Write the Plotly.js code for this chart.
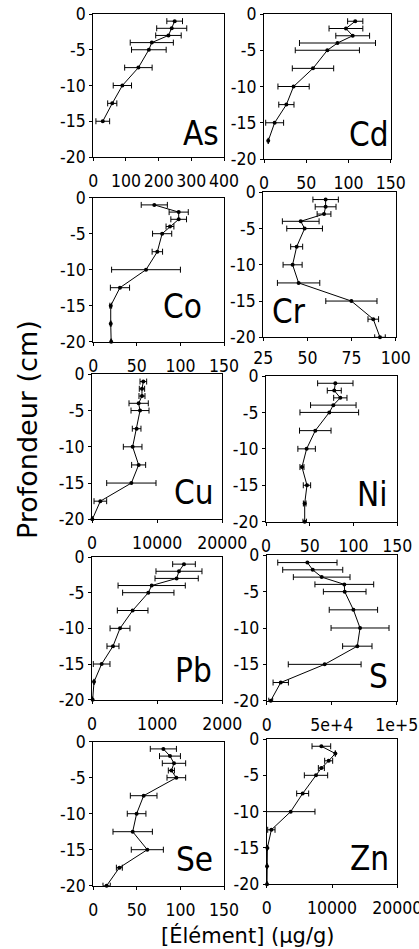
<!DOCTYPE html>
<html>
<head>
<meta charset="utf-8">
<script src="https://cdn.plot.ly/plotly-3.0.1.min.js"></script>
<style>html,body{margin:0;padding:0;background:#fff;}#chart{width:419px;height:949px;}</style>
</head>
<body>
<div id="chart"></div>
<script>
// Depths (cm)
const depth = [-1, -2, -3, -4, -5, -7.5, -10, -12.5, -15, -17.5, -20];

// Element names
const elements = ["As", "Cd", "Co", "Cr", "Cu", "Ni", "Pb", "S", "Se", "Zn"];

// Concentrations (µg/g) and error bars
const asVal = [249, 240, 230, 179, 170, 138, 89, 58, 29];
const asErr = [24, 46, 39, 66, 53, 42, 28, 14, 21];
const cdVal = [108, 97, 105, 87, 75, 58, 35, 26.5, 12.6, 5];
const cdErr = [9, 20, 20, 45, 38, 24.5, 18.5, 9, 10.6, 0];
const coVal = [70, 98, 98, 88, 79, 73.5, 60.5, 30.6, 20, 20, 20.5];
const coErr = [15, 11, 9, 4.5, 11, 6, 39.5, 11, 1, 0.5, 0.5];
const crVal = [60.3, 60.3, 59.4, 46.2, 48.4, 43.9, 41.6, 45, 74.9, 87.3, 91.1];
const crErr = [7.2, 5.9, 3.9, 10.4, 10.1, 3.4, 5.4, 12, 14.5, 3, 3];
const cuVal = [7880, 7670, 7670, 7160, 7370, 6850, 6240, 7160, 6040, 1280, 50];
const cuErr = [510, 410, 460, 1480, 1380, 665, 1430, 1075, 3785, 970, 50];
const niVal = [79.2, 78, 84.9, 76.9, 72.3, 56.3, 46.4, 41.1, 46.8, 44.2, 44.2];
const niErr = [20.2, 8, 7.6, 26, 33.5, 18, 10, 2.3, 4.2, 1.5, 2];
const pbVal = [1412, 1335, 1299, 916, 864, 624, 430, 322, 148, 31, 10];
const pbErr = [174, 353, 332, 516, 394, 235, 153, 92, 128, 0, 0];
const sVal = [31300, 35400, 42300, 59700, 60000, 66700, 71800, 69700, 44600, 10800, 3100];
const sErr = [22800, 23100, 21800, 22600, 16400, 18600, 22300, 11300, 28000, 5900, 1500];
const seVal = [80.4, 88, 92.6, 89.6, 95.3, 57.8, 49.7, 45.2, 62, 29.9, 15.3];
const seErr = [15, 12, 13.4, 3.5, 10.7, 15.3, 10.7, 22.6, 18.4, 3.4, 4.2];
const znVal = [8370, 10510, 9490, 8370, 7550, 5510, 3670, 714, 102, 50, 50];
const znErr = [1430, 0, 612, 460, 1786, 918, 3724, 561, 0, 0, 0];

// X-axis ticks
const xTicks = {
  As: {vals: [0, 100, 200, 300, 400], text: ["0", "100", "200", "300", "400"], range: [0, 400]},
  Cd: {vals: [0, 50, 100, 150], text: ["0", "50", "100", "150"], range: [0, 150]},
  Co: {vals: [0, 50, 100, 150], text: ["0", "50", "100", "150"], range: [0, 150]},
  Cr: {vals: [25, 50, 75, 100], text: ["25", "50", "75", "100"], range: [25, 100]},
  Cu: {vals: [0, 10000, 20000], text: ["0", "10000", "20000"], range: [0, 20000]},
  Ni: {vals: [0, 50, 100, 150], text: ["0", "50", "100", "150"], range: [0, 150]},
  Pb: {vals: [0, 1000, 2000], text: ["0", "1000", "2000"], range: [0, 2000]},
  S:  {vals: [0, 50000, 100000], text: ["0", "5e+4", "1e+5"], range: [0, 100000]},
  Se: {vals: [0, 50, 100, 150], text: ["0", "50", "100", "150"], range: [0, 150]},
  Zn: {vals: [0, 10000, 20000], text: ["0", "10000", "20000"], range: [0, 20000]}
};
const yTickVals = [0, -5, -10, -15, -20];
const yTickText = ["0", "-5", "-10", "-15", "-20"];

const series = {
  As: [asVal, asErr], Cd: [cdVal, cdErr], Co: [coVal, coErr], Cr: [crVal, crErr],
  Cu: [cuVal, cuErr], Ni: [niVal, niErr], Pb: [pbVal, pbErr], S: [sVal, sErr],
  Se: [seVal, seErr], Zn: [znVal, znErr]
};

// Panel pixel boxes [left, right, top, bottom]
const W = 419, H = 949;
const boxes = {
  As: [93.3, 224, 14, 157],
  Cd: [264, 390.7, 14, 159],
  Co: [93.3, 224, 197.7, 341.7],
  Cr: [263.3, 395.7, 192.3, 337.3],
  Cu: [92, 222.3, 374.3, 519.3],
  Ni: [266, 397.3, 376, 521.7],
  Pb: [92, 222.3, 557, 699.7],
  S:  [266.7, 396.7, 555.3, 700.7],
  Se: [93.3, 224, 741.7, 885.7],
  Zn: [266.7, 397.3, 739, 884.3]
};
// label placement: [x px, y bottom px, anchor]
const labelPos = {
  As: [221, 147, "right"], Cd: [391, 148, "right"], Co: [204, 320, "right"],
  Cr: [270, 325, "left"], Cu: [216, 506, "right"], Ni: [389, 508, "right"],
  Pb: [214, 684, "right"], S: [390, 690, "right"], Se: [215, 873, "right"],
  Zn: [391, 872, "right"]
};

const FONT = "'DejaVu Sans Condensed', 'DejaVu Sans', sans-serif";
const TICK = 17.5;
const traces = [];
const layout = {
  width: W, height: H,
  margin: {l: 0, r: 0, t: 0, b: 0},
  paper_bgcolor: "#fff", plot_bgcolor: "#fff",
  showlegend: false,
  font: {family: FONT, color: "#000", size: TICK},
  annotations: []
};

elements.forEach((el, i) => {
  const n = i + 1;
  const xa = n === 1 ? "x" : "x" + n;
  const ya = n === 1 ? "y" : "y" + n;
  const [vals, errs] = series[el];
  traces.push({
    type: "scatter", mode: "lines+markers",
    x: vals, y: depth.slice(0, vals.length),
    xaxis: xa, yaxis: ya,
    line: {color: "#000", width: 1},
    marker: {color: "#000", size: 4},
    error_x: {type: "data", array: errs, symmetric: true, color: "#000", thickness: 1, width: 3},
    hoverinfo: "skip", cliponaxis: false
  });
  const b = boxes[el];
  const xKey = n === 1 ? "xaxis" : "xaxis" + n;
  const yKey = n === 1 ? "yaxis" : "yaxis" + n;
  const t = xTicks[el];
  layout[xKey] = {
    domain: [b[0] / W, b[1] / W], anchor: ya, range: t.range,
    tickmode: "array", tickvals: t.vals, ticktext: t.text,
    showline: true, mirror: true, linecolor: "#000", linewidth: 1,
    showgrid: false, zeroline: false, ticks: "outside", ticklen: 3, tickcolor: "#000",
    ticklabelstandoff: el === "Cr" ? 2 : 5, ticklabeloverflow: "allow",
    tickfont: {family: FONT, size: TICK, color: "#000"}, fixedrange: true
  };
  layout[yKey] = {
    domain: [(H - b[3]) / H, (H - b[2]) / H], anchor: xa, range: [-20, 0],
    tickmode: "array", tickvals: yTickVals, ticktext: yTickText,
    showline: true, mirror: true, linecolor: "#000", linewidth: 1,
    showgrid: false, zeroline: false, ticks: "outside", ticklen: 3, tickcolor: "#000",
    ticklabeloverflow: "allow",
    tickfont: {family: FONT, size: TICK, color: "#000"}, fixedrange: true
  };
  const lp = labelPos[el];
  layout.annotations.push({
    text: el, xref: "paper", yref: "paper",
    x: lp[0] / W, y: (H - lp[1] - 8) / H,
    xanchor: lp[2], yanchor: "bottom", showarrow: false,
    font: {family: FONT, size: 33, color: "#000"}
  });
});

layout.annotations.push({
  text: "Profondeur (cm)", xref: "paper", yref: "paper",
  x: 27 / W, y: (H - 430) / H, xanchor: "center", yanchor: "middle",
  textangle: -90, showarrow: false, font: {family: "'DejaVu Sans', sans-serif", size: 27, color: "#000"}
});
layout.annotations.push({
  text: "[Élément] (µg/g)", xref: "paper", yref: "paper",
  x: 248 / W, y: (H - 935) / H, xanchor: "center", yanchor: "middle",
  showarrow: false, font: {family: "'DejaVu Sans', sans-serif", size: 21, color: "#000"}
});

Plotly.newPlot("chart", traces, layout, {staticPlot: true, displayModeBar: false});
</script>
</body>
</html>
